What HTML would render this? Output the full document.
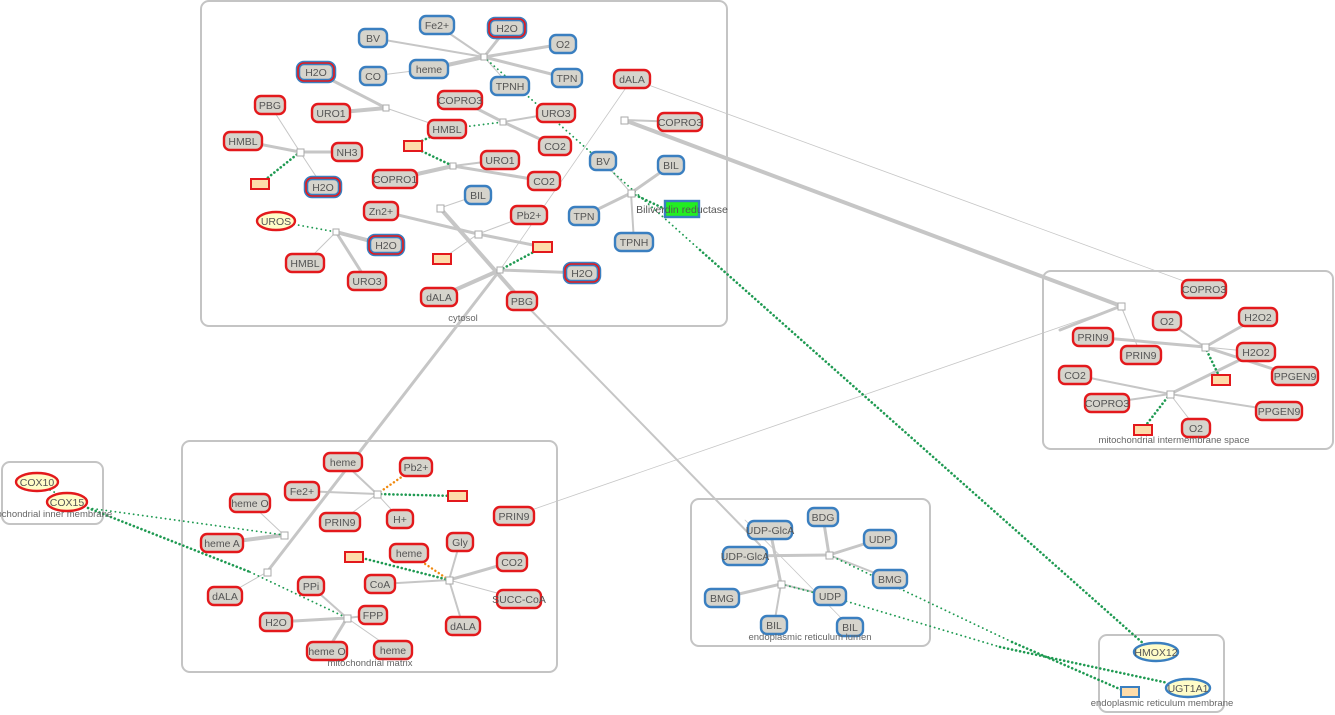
<!DOCTYPE html>
<html><head><meta charset="utf-8"><style>
html,body{margin:0;padding:0;background:#fff;}
svg{display:block;font-family:"Liberation Sans",sans-serif;}
.box{fill:#fff;stroke:#c4c4c4;stroke-width:2;}
.e{stroke:#c6c6c6;fill:none;stroke-linecap:round;}
.d{stroke:#1f9a52;fill:none;stroke-dasharray:0.1 4;stroke-linecap:round;stroke-width:2.6;}
.dt{stroke:#1f9a52;fill:none;stroke-dasharray:0.1 4.5;stroke-linecap:round;stroke-width:1.8;}
.o{stroke:#f08a10;fill:none;stroke-dasharray:0.1 4;stroke-linecap:round;stroke-width:2.4;}
.r{fill:#d6d4cc;stroke:#e3191c;stroke-width:2.4;}
.b{fill:#d6d4cc;stroke:#3a7fc0;stroke-width:2.4;}
.rbo{fill:#d6d4cc;stroke:#3a7fc0;stroke-width:4.5;}
.rbi{fill:none;stroke:#e3191c;stroke-width:1.6;}
.ye{fill:#fffcc8;stroke:#e3191c;stroke-width:2.4;}
.yb{fill:#fffcc8;stroke:#3a7fc0;stroke-width:2.4;}
.c{fill:#fddcaa;stroke:#e3191c;stroke-width:2;}
.j{fill:#fff;stroke:#aaa;stroke-width:1;}
text{font-size:10.5px;fill:#555;text-anchor:middle;}
.lbl{font-size:9.5px;fill:#666;}
</style></head><body>
<svg width="1335" height="715" viewBox="0 0 1335 715">
<rect class="box" x="201" y="1" width="526" height="325" rx="8"/>
<rect class="box" x="182" y="441" width="375" height="231" rx="8"/>
<rect class="box" x="2" y="462" width="101" height="62" rx="8"/>
<rect class="box" x="1043" y="271" width="290" height="178" rx="8"/>
<rect class="box" x="691" y="499" width="239" height="147" rx="8"/>
<rect class="box" x="1099" y="635" width="125" height="77" rx="8"/>

<line class="e" x1="624" y1="120" x2="1121" y2="306" stroke-width="4"/>
<line class="e" x1="632" y1="79" x2="1200" y2="287" stroke-width="0.8"/>
<line class="e" x1="514" y1="516" x2="1121" y2="306" stroke-width="0.8"/>
<line class="e" x1="1121" y1="306" x2="1060" y2="330" stroke-width="3"/>
<line class="e" x1="632" y1="79" x2="500" y2="270" stroke-width="0.8"/>
<line class="e" x1="500" y1="270" x2="267" y2="572" stroke-width="3"/>
<line class="e" x1="440" y1="208" x2="522" y2="301" stroke-width="4"/>
<line class="e" x1="522" y1="301" x2="760" y2="545" stroke-width="2"/>
<line class="e" x1="745" y1="520" x2="850" y2="627" stroke-width="0.8"/>

<g class="e">
<line x1="484" y1="57" x2="373" y2="38" stroke-width="2"/>
<line x1="484" y1="57" x2="437" y2="25" stroke-width="2"/>
<line x1="484" y1="57" x2="507" y2="28" stroke-width="3"/>
<line x1="484" y1="57" x2="563" y2="44" stroke-width="3"/>
<line x1="484" y1="57" x2="429" y2="69" stroke-width="4"/>
<line x1="484" y1="57" x2="567" y2="78" stroke-width="3"/>
<line x1="484" y1="57" x2="510" y2="86" stroke-width="1"/>
<line x1="373" y1="76" x2="429" y2="69" stroke-width="1"/>
<line x1="386" y1="108" x2="316" y2="72" stroke-width="3"/>
<line x1="386" y1="108" x2="331" y2="113" stroke-width="4"/>
<line x1="386" y1="108" x2="447" y2="129" stroke-width="1"/>
<line x1="300" y1="152" x2="270" y2="105" stroke-width="1"/>
<line x1="300" y1="152" x2="243" y2="141" stroke-width="3"/>
<line x1="300" y1="152" x2="347" y2="152" stroke-width="3"/>
<line x1="300" y1="152" x2="323" y2="187" stroke-width="1"/>
<line x1="503" y1="122" x2="460" y2="100" stroke-width="3"/>
<line x1="503" y1="122" x2="556" y2="113" stroke-width="2"/>
<line x1="503" y1="122" x2="555" y2="146" stroke-width="3"/>
<line x1="453" y1="166" x2="395" y2="179" stroke-width="4"/>
<line x1="453" y1="166" x2="500" y2="160" stroke-width="2"/>
<line x1="453" y1="166" x2="544" y2="181" stroke-width="3"/>
<line x1="440" y1="208" x2="478" y2="195" stroke-width="1"/>
<line x1="478" y1="234" x2="381" y2="211" stroke-width="3"/>
<line x1="478" y1="234" x2="529" y2="215" stroke-width="1"/>
<line x1="478" y1="234" x2="543" y2="247" stroke-width="3"/>
<line x1="478" y1="234" x2="442" y2="259" stroke-width="1"/>
<line x1="336" y1="232" x2="386" y2="245" stroke-width="4"/>
<line x1="336" y1="232" x2="305" y2="263" stroke-width="1"/>
<line x1="336" y1="232" x2="367" y2="281" stroke-width="3"/>
<line x1="500" y1="270" x2="439" y2="297" stroke-width="4"/>
<line x1="500" y1="270" x2="582" y2="273" stroke-width="3"/>
<line x1="631" y1="193" x2="603" y2="161" stroke-width="1"/>
<line x1="631" y1="193" x2="671" y2="165" stroke-width="3"/>
<line x1="631" y1="193" x2="584" y2="216" stroke-width="3"/>
<line x1="631" y1="193" x2="634" y2="242" stroke-width="2"/>
<line x1="624" y1="120" x2="680" y2="122" stroke-width="2"/>
</g>
<line class="dt" x1="484" y1="57" x2="700" y2="250"/>
<line class="d" x1="700" y1="250" x2="1145" y2="645"/>
<line class="d" x1="665" y1="209" x2="631" y2="193"/>
<line class="d" x1="300" y1="152" x2="260" y2="184"/>
<line class="d" x1="411" y1="146" x2="453" y2="166"/>
<line class="d" x1="411" y1="146" x2="447" y2="129"/>
<line class="dt" x1="447" y1="129" x2="503" y2="122"/>
<line class="dt" x1="276" y1="221" x2="336" y2="232"/>
<line class="d" x1="543" y1="247" x2="500" y2="270"/>

<g class="e">
<line x1="377" y1="494" x2="343" y2="462" stroke-width="2"/>
<line x1="377" y1="494" x2="302" y2="491" stroke-width="2"/>
<line x1="377" y1="494" x2="340" y2="522" stroke-width="1"/>
<line x1="377" y1="494" x2="400" y2="519" stroke-width="1"/>
<line x1="284" y1="535" x2="250" y2="503" stroke-width="1"/>
<line x1="284" y1="535" x2="222" y2="543" stroke-width="4"/>
<line x1="267" y1="572" x2="225" y2="596" stroke-width="1"/>
<line x1="449" y1="580" x2="460" y2="542" stroke-width="2"/>
<line x1="449" y1="580" x2="512" y2="562" stroke-width="3"/>
<line x1="449" y1="580" x2="380" y2="584" stroke-width="2"/>
<line x1="449" y1="580" x2="519" y2="599" stroke-width="1"/>
<line x1="449" y1="580" x2="463" y2="626" stroke-width="2"/>
<line x1="347" y1="618" x2="311" y2="586" stroke-width="2"/>
<line x1="347" y1="618" x2="276" y2="622" stroke-width="3"/>
<line x1="347" y1="618" x2="373" y2="615" stroke-width="2"/>
<line x1="347" y1="618" x2="327" y2="651" stroke-width="3"/>
<line x1="347" y1="618" x2="393" y2="650" stroke-width="1"/>
</g>
<line class="o" x1="377" y1="494" x2="416" y2="467"/>
<line class="d" x1="377" y1="494" x2="457" y2="496"/>
<line class="o" x1="449" y1="580" x2="409" y2="553"/>
<line class="d" x1="354" y1="556" x2="449" y2="580"/>
<line class="dt" x1="88" y1="508" x2="284" y2="535"/>
<line class="d" x1="88" y1="508" x2="250" y2="572" stroke-width="2.4"/>
<line class="dt" x1="250" y1="572" x2="347" y2="618"/>
<line class="dt" x1="50" y1="490" x2="60" y2="495"/>

<g class="e">
<line x1="1121" y1="306" x2="1141" y2="355" stroke-width="1"/>
<line x1="1205" y1="347" x2="1167" y2="321" stroke-width="2"/>
<line x1="1205" y1="347" x2="1258" y2="317" stroke-width="3"/>
<line x1="1205" y1="347" x2="1093" y2="337" stroke-width="3"/>
<line x1="1205" y1="347" x2="1256" y2="352" stroke-width="1"/>
<line x1="1205" y1="347" x2="1295" y2="376" stroke-width="3"/>
<line x1="1170" y1="394" x2="1075" y2="375" stroke-width="2"/>
<line x1="1170" y1="394" x2="1107" y2="403" stroke-width="2"/>
<line x1="1170" y1="394" x2="1256" y2="352" stroke-width="3"/>
<line x1="1170" y1="394" x2="1279" y2="411" stroke-width="2"/>
<line x1="1170" y1="394" x2="1196" y2="428" stroke-width="1"/>
</g>
<line class="d" x1="1205" y1="347" x2="1221" y2="380"/>
<line class="d" x1="1170" y1="394" x2="1143" y2="429"/>

<g class="e">
<line x1="829" y1="555" x2="823" y2="517" stroke-width="3"/>
<line x1="829" y1="555" x2="880" y2="539" stroke-width="3"/>
<line x1="829" y1="555" x2="745" y2="556" stroke-width="3"/>
<line x1="829" y1="555" x2="890" y2="579" stroke-width="2"/>
<line x1="781" y1="584" x2="770" y2="530" stroke-width="3"/>
<line x1="781" y1="584" x2="722" y2="598" stroke-width="3"/>
<line x1="781" y1="584" x2="830" y2="596" stroke-width="2"/>
<line x1="781" y1="584" x2="774" y2="625" stroke-width="2"/>
</g>
<!-- BMG -> rect -->
<line class="dt" x1="829" y1="555" x2="1012" y2="642"/>
<line class="d" x1="1012" y1="642" x2="1122" y2="690"/>
<!-- UDP -> UGT1A1 -->
<line class="dt" x1="781" y1="584" x2="842" y2="600"/>
<line class="dt" x1="842" y1="600" x2="1000" y2="647"/>
<line class="d" x1="1000" y1="647" x2="1168" y2="683"/>

<g class="j">
<rect x="481" y="54" width="6" height="6"/><rect x="383" y="105" width="6" height="6"/>
<rect x="297" y="149" width="7" height="7"/><rect x="500" y="119" width="6" height="6"/>
<rect x="450" y="163" width="6" height="6"/><rect x="437" y="205" width="7" height="7"/>
<rect x="475" y="231" width="7" height="7"/><rect x="333" y="229" width="6" height="6"/>
<rect x="497" y="267" width="6" height="6"/><rect x="628" y="190" width="7" height="7"/>
<rect x="621" y="117" width="7" height="7"/>
<rect x="374" y="491" width="7" height="7"/><rect x="281" y="532" width="7" height="7"/>
<rect x="264" y="569" width="7" height="7"/><rect x="446" y="577" width="7" height="7"/>
<rect x="344" y="615" width="7" height="7"/>
<rect x="1118" y="303" width="7" height="7"/><rect x="1202" y="344" width="7" height="7"/>
<rect x="1167" y="391" width="7" height="7"/>
<rect x="826" y="552" width="7" height="7"/><rect x="778" y="581" width="7" height="7"/>
</g>

<rect class="c" x="404" y="141" width="18" height="10"/>
<rect class="c" x="251" y="179" width="18" height="10"/>
<rect class="c" x="433" y="254" width="18" height="10"/>
<rect class="c" x="533" y="242" width="19" height="10"/>
<rect class="c" x="448" y="491" width="19" height="10"/>
<rect class="c" x="345" y="552" width="18" height="10"/>
<rect class="c" x="1212" y="375" width="18" height="10"/>
<rect class="c" x="1134" y="425" width="18" height="10"/>
<rect x="1121" y="687" width="18" height="10" fill="#fddcaa" stroke="#3a7fc0" stroke-width="2"/>
<rect x="665" y="201" width="34" height="16" fill="#22ee22" stroke="#3a7fc0" stroke-width="2.4"/>
<text x="682" y="213">Biliverdin reductase</text>

<g>
<rect class="b" x="359" y="29" width="28" height="18" rx="6"/><text x="373" y="42">BV</text>
<rect class="b" x="420" y="16" width="34" height="18" rx="6"/><text x="437" y="29">Fe2+</text>
<rect class="rbo" x="489" y="19" width="36" height="18" rx="6"/><rect class="rbi" x="489" y="19" width="36" height="18" rx="6"/><text x="507" y="32">H2O</text>
<rect class="b" x="550" y="35" width="26" height="18" rx="6"/><text x="563" y="48">O2</text>
<rect class="b" x="360" y="67" width="26" height="18" rx="6"/><text x="373" y="80">CO</text>
<rect class="b" x="410" y="60" width="38" height="18" rx="6"/><text x="429" y="73">heme</text>
<rect class="b" x="552" y="69" width="30" height="18" rx="6"/><text x="567" y="82">TPN</text>
<rect class="b" x="491" y="77" width="38" height="18" rx="6"/><text x="510" y="90">TPNH</text>
<rect class="r" x="614" y="70" width="36" height="18" rx="6"/><text x="632" y="83">dALA</text>
<rect class="rbo" x="298" y="63" width="36" height="18" rx="6"/><rect class="rbi" x="298" y="63" width="36" height="18" rx="6"/><text x="316" y="76">H2O</text>
<rect class="r" x="255" y="96" width="30" height="18" rx="6"/><text x="270" y="109">PBG</text>
<rect class="r" x="312" y="104" width="38" height="18" rx="6"/><text x="331" y="117">URO1</text>
<rect class="r" x="438" y="91" width="44" height="18" rx="6"/><text x="460" y="104">COPRO3</text>
<rect class="r" x="537" y="104" width="38" height="18" rx="6"/><text x="556" y="117">URO3</text>
<rect class="r" x="658" y="113" width="44" height="18" rx="6"/><text x="680" y="126">COPRO3</text>
<rect class="r" x="224" y="132" width="38" height="18" rx="6"/><text x="243" y="145">HMBL</text>
<rect class="r" x="428" y="120" width="38" height="18" rx="6"/><text x="447" y="133">HMBL</text>
<rect class="r" x="332" y="143" width="30" height="18" rx="6"/><text x="347" y="156">NH3</text>
<rect class="r" x="539" y="137" width="32" height="18" rx="6"/><text x="555" y="150">CO2</text>
<rect class="b" x="590" y="152" width="26" height="18" rx="6"/><text x="603" y="165">BV</text>
<rect class="b" x="658" y="156" width="26" height="18" rx="6"/><text x="671" y="169">BIL</text>
<rect class="r" x="481" y="151" width="38" height="18" rx="6"/><text x="500" y="164">URO1</text>
<rect class="r" x="373" y="170" width="44" height="18" rx="6"/><text x="395" y="183">COPRO1</text>
<rect class="r" x="528" y="172" width="32" height="18" rx="6"/><text x="544" y="185">CO2</text>
<rect class="rbo" x="306" y="178" width="34" height="18" rx="6"/><rect class="rbi" x="306" y="178" width="34" height="18" rx="6"/><text x="323" y="191">H2O</text>
<rect class="b" x="465" y="186" width="26" height="18" rx="6"/><text x="478" y="199">BIL</text>
<rect class="r" x="364" y="202" width="34" height="18" rx="6"/><text x="381" y="215">Zn2+</text>
<rect class="r" x="511" y="206" width="36" height="18" rx="6"/><text x="529" y="219">Pb2+</text>
<rect class="b" x="569" y="207" width="30" height="18" rx="6"/><text x="584" y="220">TPN</text>
<rect class="b" x="615" y="233" width="38" height="18" rx="6"/><text x="634" y="246">TPNH</text>
<ellipse class="ye" cx="276" cy="221" rx="19" ry="9"/><text x="276" y="225">UROS</text>
<rect class="rbo" x="369" y="236" width="34" height="18" rx="6"/><rect class="rbi" x="369" y="236" width="34" height="18" rx="6"/><text x="386" y="249">H2O</text>
<rect class="r" x="286" y="254" width="38" height="18" rx="6"/><text x="305" y="267">HMBL</text>
<rect class="r" x="348" y="272" width="38" height="18" rx="6"/><text x="367" y="285">URO3</text>
<rect class="rbo" x="565" y="264" width="34" height="18" rx="6"/><rect class="rbi" x="565" y="264" width="34" height="18" rx="6"/><text x="582" y="277">H2O</text>
<rect class="r" x="421" y="288" width="36" height="18" rx="6"/><text x="439" y="301">dALA</text>
<rect class="r" x="507" y="292" width="30" height="18" rx="6"/><text x="522" y="305">PBG</text>
<text class="lbl" x="463" y="321">cytosol</text>
</g>

<g>
<rect class="r" x="324" y="453" width="38" height="18" rx="6"/><text x="343" y="466">heme</text>
<rect class="r" x="400" y="458" width="32" height="18" rx="6"/><text x="416" y="471">Pb2+</text>
<rect class="r" x="285" y="482" width="34" height="18" rx="6"/><text x="302" y="495">Fe2+</text>
<rect class="r" x="230" y="494" width="40" height="18" rx="6"/><text x="250" y="507">heme O</text>
<rect class="r" x="320" y="513" width="40" height="18" rx="6"/><text x="340" y="526">PRIN9</text>
<rect class="r" x="387" y="510" width="26" height="18" rx="6"/><text x="400" y="523">H+</text>
<rect class="r" x="494" y="507" width="40" height="18" rx="6"/><text x="514" y="520">PRIN9</text>
<rect class="r" x="201" y="534" width="42" height="18" rx="6"/><text x="222" y="547">heme A</text>
<rect class="r" x="447" y="533" width="26" height="18" rx="6"/><text x="460" y="546">Gly</text>
<rect class="r" x="390" y="544" width="38" height="18" rx="6"/><text x="409" y="557">heme</text>
<rect class="r" x="497" y="553" width="30" height="18" rx="6"/><text x="512" y="566">CO2</text>
<rect class="r" x="365" y="575" width="30" height="18" rx="6"/><text x="380" y="588">CoA</text>
<rect class="r" x="497" y="590" width="44" height="18" rx="6"/><text x="519" y="603">SUCC-CoA</text>
<rect class="r" x="208" y="587" width="34" height="18" rx="6"/><text x="225" y="600">dALA</text>
<rect class="r" x="298" y="577" width="26" height="18" rx="6"/><text x="311" y="590">PPi</text>
<rect class="r" x="446" y="617" width="34" height="18" rx="6"/><text x="463" y="630">dALA</text>
<rect class="r" x="260" y="613" width="32" height="18" rx="6"/><text x="276" y="626">H2O</text>
<rect class="r" x="359" y="606" width="28" height="18" rx="6"/><text x="373" y="619">FPP</text>
<rect class="r" x="307" y="642" width="40" height="18" rx="6"/><text x="327" y="655">heme O</text>
<rect class="r" x="374" y="641" width="38" height="18" rx="6"/><text x="393" y="654">heme</text>
<text class="lbl" x="370" y="666">mitochondrial matrix</text>
</g>

<ellipse class="ye" cx="37" cy="482" rx="21" ry="9"/><text x="37" y="486">COX10</text>
<ellipse class="ye" cx="67" cy="502" rx="20" ry="9"/><text x="67" y="506">COX15</text>
<text class="lbl" x="48" y="517">mitochondrial inner membrane</text>

<g>
<rect class="r" x="1182" y="280" width="44" height="18" rx="6"/><text x="1204" y="293">COPRO3</text>
<rect class="r" x="1153" y="312" width="28" height="18" rx="6"/><text x="1167" y="325">O2</text>
<rect class="r" x="1239" y="308" width="38" height="18" rx="6"/><text x="1258" y="321">H2O2</text>
<rect class="r" x="1073" y="328" width="40" height="18" rx="6"/><text x="1093" y="341">PRIN9</text>
<rect class="r" x="1121" y="346" width="40" height="18" rx="6"/><text x="1141" y="359">PRIN9</text>
<rect class="r" x="1237" y="343" width="38" height="18" rx="6"/><text x="1256" y="356">H2O2</text>
<rect class="r" x="1059" y="366" width="32" height="18" rx="6"/><text x="1075" y="379">CO2</text>
<rect class="r" x="1272" y="367" width="46" height="18" rx="6"/><text x="1295" y="380">PPGEN9</text>
<rect class="r" x="1085" y="394" width="44" height="18" rx="6"/><text x="1107" y="407">COPRO3</text>
<rect class="r" x="1256" y="402" width="46" height="18" rx="6"/><text x="1279" y="415">PPGEN9</text>
<rect class="r" x="1182" y="419" width="28" height="18" rx="6"/><text x="1196" y="432">O2</text>
<text class="lbl" x="1174" y="443">mitochondrial intermembrane space</text>
</g>

<g>
<rect class="b" x="748" y="521" width="44" height="18" rx="6"/><text x="770" y="534">UDP-GlcA</text>
<rect class="b" x="808" y="508" width="30" height="18" rx="6"/><text x="823" y="521">BDG</text>
<rect class="b" x="864" y="530" width="32" height="18" rx="6"/><text x="880" y="543">UDP</text>
<rect class="b" x="723" y="547" width="44" height="18" rx="6"/><text x="745" y="560">UDP-GlcA</text>
<rect class="b" x="873" y="570" width="34" height="18" rx="6"/><text x="890" y="583">BMG</text>
<rect class="b" x="705" y="589" width="34" height="18" rx="6"/><text x="722" y="602">BMG</text>
<rect class="b" x="814" y="587" width="32" height="18" rx="6"/><text x="830" y="600">UDP</text>
<rect class="b" x="761" y="616" width="26" height="18" rx="6"/><text x="774" y="629">BIL</text>
<rect class="b" x="837" y="618" width="26" height="18" rx="6"/><text x="850" y="631">BIL</text>
<text class="lbl" x="810" y="640">endoplasmic reticulum lumen</text>
</g>

<ellipse class="yb" cx="1156" cy="652" rx="22" ry="9"/><text x="1156" y="656">HMOX12</text>
<ellipse class="yb" cx="1188" cy="688" rx="22" ry="9"/><text x="1188" y="692">UGT1A1</text>
<text class="lbl" x="1162" y="706">endoplasmic reticulum membrane</text>
</svg>
</body></html>
